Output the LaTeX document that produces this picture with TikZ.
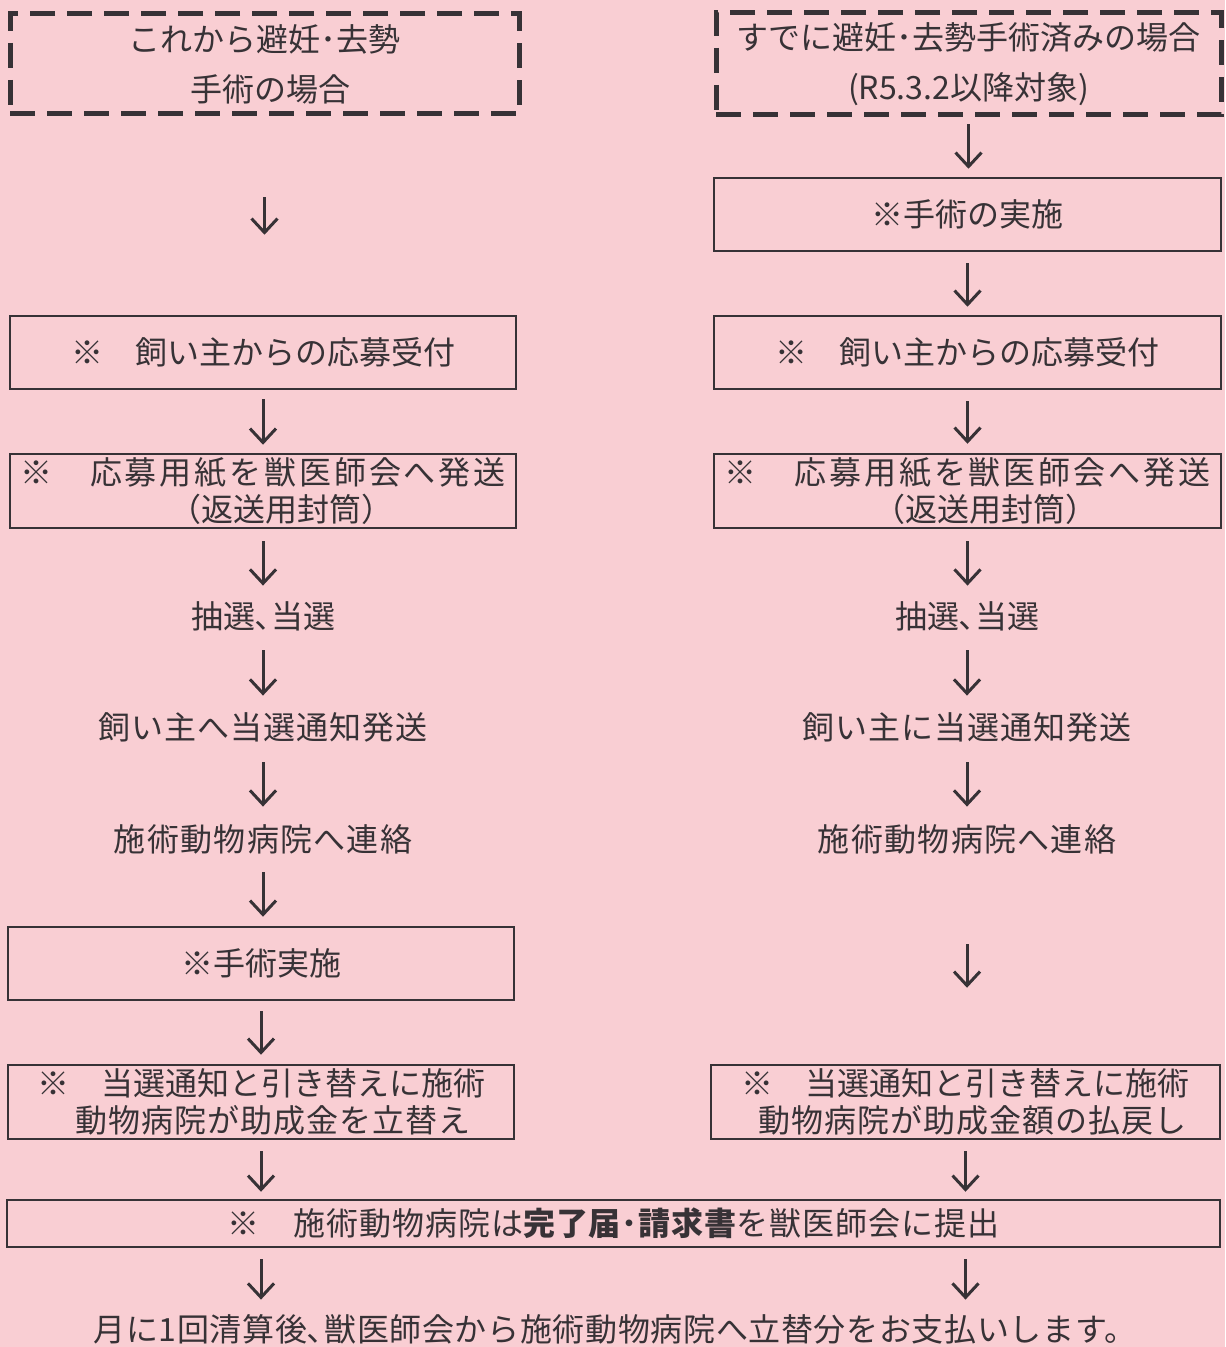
\documentclass[tikz,border=0pt]{standalone}
\usepackage{fontspec}
\setmainfont{Noto Sans CJK JP}
\usetikzlibrary{arrows.meta}
\definecolor{bgpink}{RGB}{249,206,211}
\definecolor{ink}{RGB}{55,50,54}
\newcommand{\lsp}[2]{{\addfontfeature{LetterSpace=#1}#2}}
\begin{document}
\begin{tikzpicture}[x=0.5pt,y=-0.5pt,
  every node/.style={text=ink, font=\fontsize{16pt}{18.5pt}\selectfont},
  box/.style={draw=ink, line width=1.25pt, inner sep=0pt, align=center},
  dbox/.style={draw=ink, line width=2.5pt, dash pattern=on 12.5pt off 6pt, inner sep=0pt, align=center, font=\fontsize{16pt}{25pt}\selectfont},
  lbl/.style={inner sep=0pt, text height=12.5pt, text depth=1.5pt, minimum height=16pt},
  arr/.style={draw=ink, line width=1.5pt, -{Straight Barb[length=7pt,width=13pt]}}]
\fill[bgpink] (0,0) rectangle (1225,1347);
\useasboundingbox (0,0) rectangle (1225,1347);

% left column
\node[dbox, minimum width=254.5pt, minimum height=50pt] (dl) at (264.5,64) {これから避妊･去勢\\\hspace*{6pt}手術の場合};
\node[box, minimum width=253pt, minimum height=36.5pt] (l1) at (263,352.5) {※　飼い主からの応募受付};
\node[box, minimum width=253pt, minimum height=37pt] (l2) at (263,491) {\lsp{9}{※　応募用紙を獣医師会へ発送}\\\hspace*{18pt}（返送用封筒）};
\node[lbl] (l3) at (263,617) {抽選､当選};
\node[lbl] (l4) at (263,728) {\lsp{3}{飼い主へ当選通知発送}};
\node[lbl] (l5) at (263,840) {\lsp{4}{施術動物病院へ連絡}};
\node[box, minimum width=253pt, minimum height=36.5pt] (l6) at (261,963.5) {※手術実施};
\node[box, minimum width=253pt, minimum height=37pt] (l7) at (261,1102) {※　当選通知と引き替えに施術\\\hspace*{12pt}\lsp{3}{動物病院が助成金を立替え}};

% right column
\node[dbox, minimum width=252.5pt, minimum height=51pt] (dr) at (968.5,64) {すでに避妊･去勢手術済みの場合\\(R5.3.2以降対象)};
\node[box, minimum width=253.5pt, minimum height=36.5pt] (r0) at (967.5,214.5) {※手術の実施};
\node[box, minimum width=253.5pt, minimum height=36.5pt] (r1) at (967.5,352.5) {※　飼い主からの応募受付};
\node[box, minimum width=253.5pt, minimum height=37pt] (r2) at (967.5,491) {\lsp{9}{※　応募用紙を獣医師会へ発送}\\\hspace*{18pt}（返送用封筒）};
\node[lbl] (r3) at (967,617) {抽選､当選};
\node[lbl] (r4) at (967,728) {\lsp{3}{飼い主に当選通知発送}};
\node[lbl] (r5) at (967,840) {\lsp{4}{施術動物病院へ連絡}};
\node[box, minimum width=254.5pt, minimum height=37pt] (r7) at (965.5,1102) {※　当選通知と引き替えに施術\\\hspace*{7pt}\lsp{3}{動物病院が助成金額の払戻し}};

% common
\node[box, minimum width=606.5pt, minimum height=23.5pt] (all) at (613.5,1223.5) {\lsp{3}{※　施術動物病院は{\bfseries 完了届･請求書}を獣医師会に提出}};
\node[lbl] (fin) at (615,1330) {\lsp{2}{月に1回清算後､獣医師会から施術動物病院へ立替分をお支払いします。}};

% left arrows
\draw[arr, shorten <=40.5pt, shorten >=40pt] (dl.south) -- (dl.south |- l1.north);
\draw[arr, shorten <=4.5pt, shorten >=4pt] (l1.south) -- (l1.south |- l2.north);
\draw[arr, shorten <=6pt, shorten >=7.5pt] (l2.south) -- (l2.south |- l3.north);
\draw[arr, shorten <=8.5pt, shorten >=8pt] (l3.south) -- (l3.south |- l4.north);
\draw[arr, shorten <=9pt, shorten >=8.5pt] (l4.south) -- (l4.south |- l5.north);
\draw[arr, shorten <=8pt, shorten >=4.5pt] (l5.south) -- (l5.south |- l6.north);
\draw[arr, shorten <=5pt, shorten >=4.5pt] (l6.south) -- (l6.south |- l7.north);
\draw[arr, shorten <=5.5pt, shorten >=3.5pt] (l7.south) -- (l7.south |- all.north);
\draw[arr, shorten <=5.5pt, shorten >=7pt] (l7.south |- all.south) -- (l7.south |- fin.north);

% right arrows
\draw[arr, shorten <=3.5pt, shorten >=4pt] (dr.south) -- (dr.south |- r0.north);
\draw[arr, shorten <=5.5pt, shorten >=4pt] (r0.south) -- (r0.south |- r1.north);
\draw[arr, shorten <=5.5pt, shorten >=4.5pt] (r1.south) -- (r1.south |- r2.north);
\draw[arr, shorten <=6pt, shorten >=7.5pt] (r2.south) -- (r2.south |- r3.north);
\draw[arr, shorten <=8.5pt, shorten >=8pt] (r3.south) -- (r3.south |- r4.north);
\draw[arr, shorten <=9pt, shorten >=8.5pt] (r4.south) -- (r4.south |- r5.north);
\draw[arr, shorten <=44pt, shorten >=38pt] (r5.south) -- (r5.south |- r7.north);
\draw[arr, shorten <=5.5pt, shorten >=3.5pt] (r7.south) -- (r7.south |- all.north);
\draw[arr, shorten <=5.5pt, shorten >=7pt] (r7.south |- all.south) -- (r7.south |- fin.north);
\end{tikzpicture}
\end{document}
